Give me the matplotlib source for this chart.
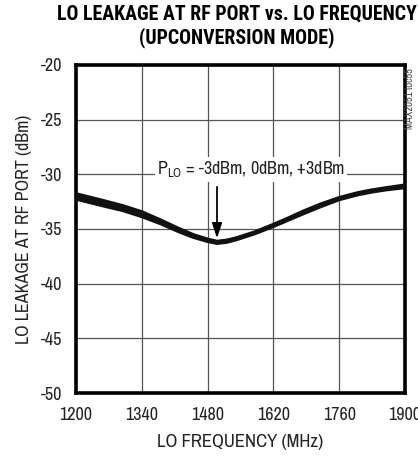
import matplotlib
matplotlib.use("Agg")
import matplotlib.pyplot as plt
from matplotlib import font_manager

installed = {(f.name, f.weight) for f in font_manager.fontManager.ttflist}
fam_names = {n for n, w in installed}

def pick(prefs, default='Liberation Sans'):
    for p in prefs:
        if p in fam_names:
            return p
    return default

body_font = pick(['Liberation Sans Narrow', 'Archivo Narrow', 'Roboto Condensed', 'PT Sans Narrow', 'Asap Condensed'])
title_font = pick(['Roboto Condensed', 'Barlow Condensed', 'Asap Condensed', 'Archivo Narrow'])
plt.rcParams['font.family'] = [body_font, 'DejaVu Sans']

freq = [1200, 1256, 1300, 1340, 1380, 1420, 1450, 1480, 1500, 1520, 1540, 1580, 1620, 1650, 1683, 1720, 1760, 1800, 1830, 1860, 1900]
leak_m3dbm = [-31.8, -32.4, -32.9, -33.45, -34.2, -35.0, -35.55, -35.95, -36.15, -36.05, -35.85, -35.3, -34.6, -34.05, -33.4, -32.75, -32.15, -31.7, -31.45, -31.25, -31.0]
leak_0dbm = [-32.0, -32.6, -33.1, -33.65, -34.35, -35.1, -35.65, -36.05, -36.22, -36.12, -35.9, -35.35, -34.68, -34.12, -33.5, -32.85, -32.22, -31.78, -31.52, -31.32, -31.1]
leak_p3dbm = [-32.25, -32.85, -33.3, -33.85, -34.5, -35.25, -35.75, -36.12, -36.3, -36.2, -35.98, -35.42, -34.75, -34.2, -33.6, -32.95, -32.3, -31.85, -31.6, -31.4, -31.2]

xticks = [1200, 1340, 1480, 1620, 1760, 1900]
yticks = [-50, -45, -40, -35, -30, -25, -20]

fig = plt.figure(figsize=(4.18, 4.57), dpi=100)
ax = fig.add_axes([0.1818, 0.140, 0.969 - 0.1818, 0.858 - 0.140])

for s in (leak_m3dbm, leak_0dbm, leak_p3dbm):
    ax.plot(freq, s, color='#111111', lw=2.6, solid_joinstyle='round', solid_capstyle='butt', zorder=3)

ax.set_xlim(1200, 1900)
ax.set_ylim(-50, -20)
ax.set_xticks(xticks)
ax.set_yticks(yticks)
ax.set_xticklabels([str(v) for v in xticks])
ax.set_yticklabels([str(v) for v in yticks])
ax.tick_params(length=0, labelsize=13, pad=10, colors='#222222')
ax.grid(True, color='#555555', lw=0.9)
ax.set_axisbelow(True)
for sp in ax.spines.values():
    sp.set_linewidth(2.6)
    sp.set_color('black')

ax.set_xlabel('LO FREQUENCY (MHz)', fontsize=13.5, labelpad=8, color='#222222')
ax.set_ylabel('LO LEAKAGE AT RF PORT (dBm)', fontsize=13, labelpad=6, color='#222222')

fig.text(0.567, 0.99, 'LO LEAKAGE AT RF PORT vs. LO FREQUENCY\n(UPCONVERSION MODE)',
         ha='center', va='top', fontsize=14.3, fontweight='heavy', linespacing=1.25,
         family=[title_font, 'DejaVu Sans'])

ax.text(1572, -29.55, r'P$_{\mathregular{LO}}$ = -3dBm, 0dBm, +3dBm', ha='center', va='center',
        fontsize=13, color='#222222', bbox=dict(facecolor='white', edgecolor='none', pad=1.5), zorder=4)
ax.annotate('', xy=(1500, -36.1), xytext=(1500, -30.9),
            arrowprops=dict(arrowstyle='-|>,head_length=0.9,head_width=0.3', color='black', lw=1.3), zorder=5)

fig.text(0.982, 0.85, 'MAX2051 toc55', rotation=90, ha='center', va='top', fontsize=7.5, color='#444444')

fig.savefig('out.png', dpi=100)
